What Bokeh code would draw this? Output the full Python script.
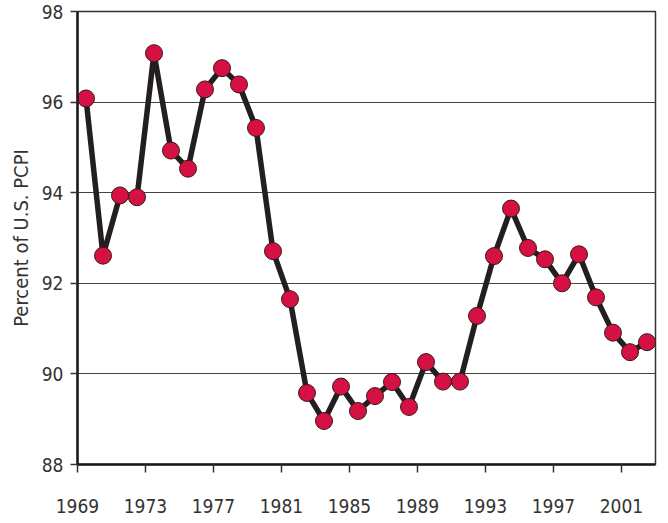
from bokeh.plotting import figure
from bokeh.models import Range1d, FixedTicker
from bokeh.embed import file_html
from bokeh.resources import INLINE

years = list(range(1969, 2003))
pct = [96.08, 92.61, 93.94, 93.90, 97.08, 94.93, 94.53, 96.28, 96.75, 96.39,
       95.43, 92.71, 91.65, 89.58, 88.96, 89.72, 89.18, 89.51, 89.82, 89.27,
       90.26, 89.83, 89.83, 91.28, 92.60, 93.65, 92.78, 92.53, 92.00, 92.64,
       91.69, 90.91, 90.48, 90.70]
x_ticks = [1969, 1973, 1977, 1981, 1985, 1989, 1993, 1997, 2001]
y_ticks = [88, 90, 92, 94, 96, 98]
y_label = "Percent of U.S. PCPI"

xs = [y + 0.5 for y in years]

FONT = "'DejaVu Sans Condensed', 'Liberation Sans Narrow', 'Open Sans', sans-serif"

p = figure(width=660, height=515, output_backend="svg", toolbar_location=None,
           x_range=Range1d(1969, 2003), y_range=Range1d(88, 98),
           min_border_left=77, min_border_right=5, min_border_top=11,
           min_border_bottom=50)

p.outline_line_color = "#333333"
p.outline_line_width = 1.5
p.background_fill_color = "white"
p.border_fill_color = "white"

p.xgrid.visible = False
p.ygrid.ticker = FixedTicker(ticks=y_ticks)
p.ygrid.grid_line_color = "#444444"
p.ygrid.grid_line_width = 1.2

p.xaxis.ticker = FixedTicker(ticks=x_ticks)
p.yaxis.ticker = FixedTicker(ticks=y_ticks)
p.xaxis.minor_tick_line_color = None
p.yaxis.minor_tick_line_color = None
for ax in (p.xaxis, p.yaxis):
    ax.axis_line_color = "#1a1a1a"
    ax.axis_line_width = 2.5
    ax.major_tick_line_color = "#333333"
    ax.major_tick_line_width = 1.5
    ax.major_tick_in = 0
    ax.major_label_text_font = FONT
    ax.major_label_text_font_size = "19px"
    ax.major_label_text_color = "#333333"
p.xaxis.major_tick_out = 8
p.xaxis.major_label_standoff = 26
p.yaxis.major_tick_out = 7
p.yaxis.major_label_standoff = 7

p.yaxis.axis_label = y_label
p.yaxis.axis_label_text_font = FONT
p.yaxis.axis_label_text_font_size = "20px"
p.yaxis.axis_label_text_font_style = "normal"
p.yaxis.axis_label_text_color = "#333333"
p.yaxis.axis_label_standoff = 6

p.line(xs, pct, line_color="#231f20", line_width=5.5, line_join="round")
p.scatter(xs, pct, marker="circle", size=17, fill_color="#d41142",
          line_color="#3a1a1a", line_width=1)

open("out.html", "w").write(file_html(p, INLINE))
